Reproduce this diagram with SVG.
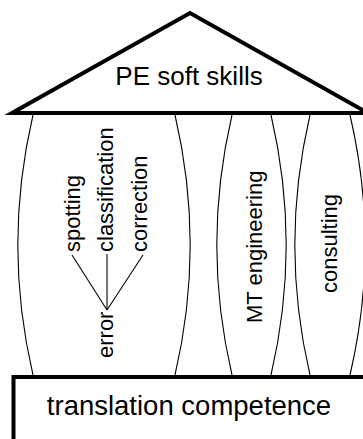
<svg xmlns="http://www.w3.org/2000/svg" width="363" height="439" viewBox="0 0 363 439">
  <style>
    .pillar { fill: none; stroke: #000; stroke-width: 1.1; }
    .heavy { fill: #fff; stroke: #000; stroke-width: 4; stroke-linejoin: miter; stroke-miterlimit: 20; }
    .lbl { font-family: "Liberation Sans", Arial, sans-serif; fill: #000; }
    .vt { font-size: 22px; }
    .link { stroke: #000; stroke-width: 1.1; fill: none; }
  </style>
  <rect width="363" height="439" fill="#fff"/>

  <!-- pillars: barrel-shaped columns between roof and foundation -->
  <g id="pillar-error">
    <path class="pillar" d="M33,115 A571,571 0 0 0 33,375"/>
    <path class="pillar" d="M175,115 A571,571 0 0 1 175,375"/>
    <text class="lbl vt" transform="translate(80,252) rotate(-90)">spotting</text>
    <text class="lbl vt" transform="translate(113,252) rotate(-90)">classification</text>
    <text class="lbl vt" transform="translate(147,252) rotate(-90)">correction</text>
    <text class="lbl vt" transform="translate(113,358) rotate(-90)">error</text>
  </g>
  <g id="pillar-mt">
    <path class="pillar" d="M232,115 A571,571 0 0 0 232,375"/>
    <path class="pillar" d="M271,115 A571,571 0 0 1 271,375"/>
    <text class="lbl vt" transform="translate(262,323) rotate(-90)">MT engineering</text>
  </g>
  <g id="pillar-consulting">
    <path class="pillar" d="M310,115 A571,571 0 0 0 310,375"/>
    <path class="pillar" d="M350,115 A571,571 0 0 1 350,375"/>
    <text class="lbl vt" transform="translate(337,293) rotate(-90)">consulting</text>
  </g>

  <!-- error branches -->
  <g id="connectors">
    <line class="link" x1="107" y1="310" x2="72" y2="255"/>
    <line class="link" x1="107" y1="310" x2="107" y2="254"/>
    <line class="link" x1="107" y1="310" x2="143" y2="255"/>
  </g>

  <!-- roof -->
  <g id="roof">
    <polygon class="heavy" points="12,113 190,13 368,113"/>
    <text class="lbl" x="189" y="85" font-size="26" text-anchor="middle">PE soft skills</text>
  </g>

  <!-- foundation -->
  <g id="foundation">
    <rect class="heavy" x="13.5" y="377" width="360" height="80"/>
    <text class="lbl" x="189" y="415" font-size="27.5" text-anchor="middle">translation competence</text>
  </g>
</svg>
